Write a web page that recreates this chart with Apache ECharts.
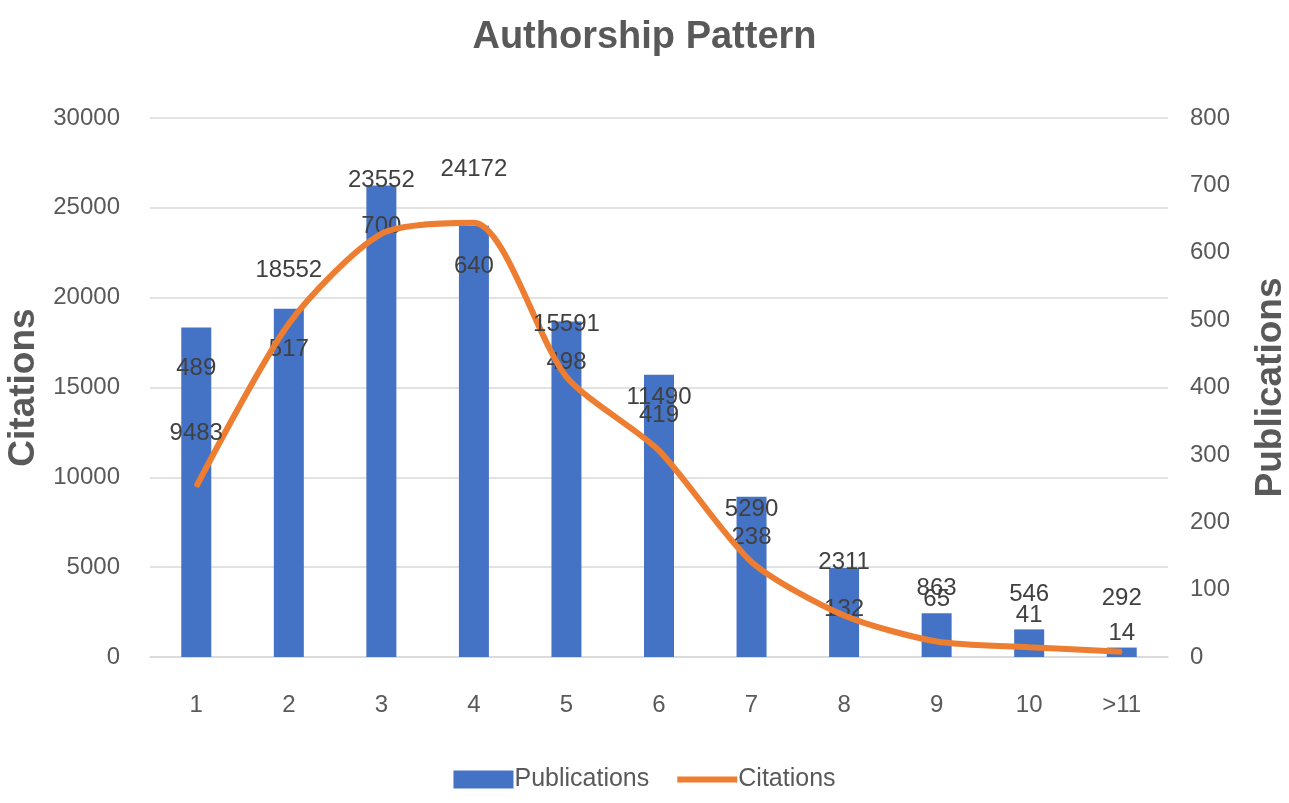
<!DOCTYPE html>
<html>
<head>
<meta charset="utf-8">
<script src="https://cdn.jsdelivr.net/npm/echarts@6/dist/echarts.min.js"></script>
<style>html,body{margin:0;padding:0;background:#fff;}#c{width:1289px;height:803px;}</style>
</head>
<body>
<div id="c"></div>
<script>
var categories = ['1','2','3','4','5','6','7','8','9','10','>11'];
var publications = [489, 517, 700, 640, 498, 419, 238, 132, 65, 41, 14];
var citations = [9483, 18552, 23552, 24172, 15591, 11490, 5290, 2311, 863, 546, 292];
var leftTicks = {min: 0, max: 30000, interval: 5000};
var rightTicks = {min: 0, max: 800, interval: 100};

var FONT = "'Liberation Sans', sans-serif";
var chart = echarts.init(document.getElementById('c'), null, {renderer: 'canvas'});

var barData = publications.map(function (v) {
  if (v < 100) {
    return {value: v, label: {position: 'top', distance: 2}};
  }
  return {value: v};
});

function plain(v) { return String(v); }

chart.setOption({
  backgroundColor: '#ffffff',
  animation: false,
  textStyle: {fontFamily: FONT},
  title: {
    text: 'Authorship Pattern',
    left: 'center',
    top: 14,
    textStyle: {fontFamily: FONT, fontSize: 38, fontWeight: 'bold', color: '#595959'}
  },
  legend: {
    bottom: 6,
    left: 'center',
    itemWidth: 60,
    itemHeight: 18,
    itemGap: 25,
    textStyle: {fontFamily: FONT, fontSize: 25, color: '#595959', padding: [0, 0, 0, -4]},
    data: [
      {name: 'Publications', icon: 'rect'},
      {name: 'Citations', itemStyle: {opacity: 0}, lineStyle: {width: 6, color: '#ED7D31'}}
    ]
  },
  grid: {left: 150, right: 121, top: 118, bottom: 146, outerBoundsMode: 'none', containLabel: false},
  xAxis: {
    type: 'category',
    data: categories,
    axisLine: {show: true, lineStyle: {color: '#d9d9d9', width: 1.5}},
    axisTick: {show: false},
    axisLabel: {fontFamily: FONT, fontSize: 24, color: '#595959', margin: 36}
  },
  yAxis: [
    {
      type: 'value',
      name: 'Citations',
      nameLocation: 'middle',
      nameGap: 80,
      nameTextStyle: {fontFamily: FONT, fontSize: 37, fontWeight: 'bold', color: '#595959'},
      min: leftTicks.min, max: leftTicks.max, interval: leftTicks.interval,
      axisLine: {show: false},
      axisTick: {show: false},
      axisLabel: {fontFamily: FONT, fontSize: 24, color: '#595959', margin: 30, formatter: plain},
      splitLine: {show: true, lineStyle: {color: '#d9d9d9', width: 1.5}}
    },
    {
      type: 'value',
      name: 'Publications',
      nameLocation: 'middle',
      nameGap: 84,
      nameRotate: 90,
      nameTextStyle: {fontFamily: FONT, fontSize: 37, fontWeight: 'bold', color: '#595959'},
      min: rightTicks.min, max: rightTicks.max, interval: rightTicks.interval,
      axisLine: {show: false},
      axisTick: {show: false},
      axisLabel: {fontFamily: FONT, fontSize: 24, color: '#595959', margin: 22, formatter: plain},
      splitLine: {show: false}
    }
  ],
  series: [
    {
      name: 'Publications',
      type: 'bar',
      yAxisIndex: 1,
      data: barData,
      barWidth: 30,
      itemStyle: {color: '#4472C4'},
      label: {
        show: true,
        position: 'insideTop',
        distance: 29,
        fontFamily: FONT,
        fontSize: 24,
        color: '#404040'
      },
      z: 2
    },
    {
      name: 'Citations',
      type: 'line',
      yAxisIndex: 0,
      data: citations,
      smooth: 0.25,
      symbol: 'circle',
      symbolSize: 2,
      showSymbol: true,
      lineStyle: {color: '#ED7D31', width: 6},
      itemStyle: {color: '#ED7D31'},
      label: {
        show: true,
        position: 'top',
        distance: 40,
        fontFamily: FONT,
        fontSize: 24,
        color: '#404040'
      },
      z: 3
    }
  ]
});
</script>
</body>
</html>
